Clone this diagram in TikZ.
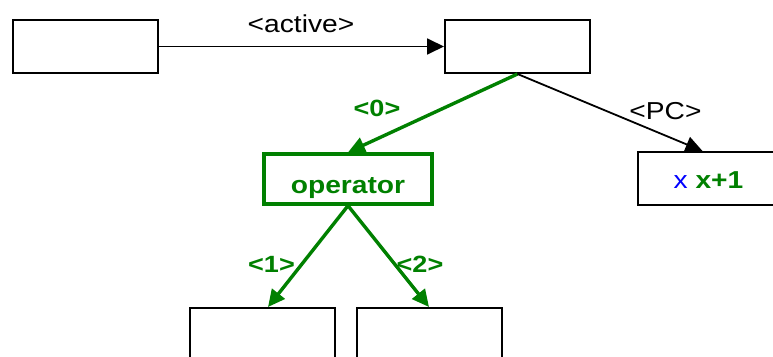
\documentclass[tikz,border=0pt]{standalone}
\usepackage{fontspec}
\setmainfont{Liberation Sans}[FakeStretch=1.15]
\usetikzlibrary{arrows.meta}
\definecolor{tgreen}{RGB}{0,128,0}
\definecolor{tblue}{RGB}{0,0,255}
\tikzset{
  box/.style={draw=black, line width=2pt, minimum width=145pt, minimum height=53pt, inner sep=0pt, fill=white},
  opbox/.style={draw=tgreen, line width=3.4pt, minimum width=168pt, minimum height=50pt, inner sep=0pt, text=tgreen, font=\fontsize{24.5}{28}\selectfont\bfseries, text height=28pt, text depth=0pt},
  blk/.style={draw=black, line width=1.8pt, -{Triangle[length=17pt,width=16pt]}},
  grn/.style={draw=tgreen, line width=3.4pt, -{Triangle[length=17pt,width=16pt]}},
  lbl/.style={font=\fontsize{24.5}{28}\selectfont, inner sep=0pt, anchor=base},
  glbl/.style={font=\fontsize{23.5}{28}\selectfont\bfseries, text=tgreen, inner sep=0pt, anchor=base}
}
\begin{document}
\begin{tikzpicture}[x=1pt,y=-1pt]
\useasboundingbox (0,0) rectangle (773,356);
\node[box] (A) at (85.5,46.5) {};
\node[box] (B) at (517.5,46.5) {};
\node[opbox] (op) at (348,179) {operator};
\node[box, font=\fontsize{24.5}{28}\selectfont, text height=19pt, text depth=0pt] (pc) at (710.5,178.5) {\hspace*{-4pt}\textcolor{tblue}{x} \textcolor{tgreen}{\bfseries x+1}};
\node[box] (L) at (262,334.5) {};
\node[box] (R) at (429,334.5) {};
\draw[blk] (A.east) -- (B.west);
\draw[grn] (B.south) -- (op.north);
\draw[blk] (B.south) -- ([xshift=-8pt]pc.north);
\draw[grn] (op.south) -- ([xshift=6pt]L.north);
\draw[grn] (op.south) -- (R.north);
\node[lbl] (la) at (301,32) {<active>};
\node[lbl] (lpc) at (665.5,119) {<PC>};
\node[glbl] (l0) at (377,116.5) {<0>};
\node[glbl] (l1) at (271.5,272) {<1>};
\node[glbl] (l2) at (420,272) {<2>};
\end{tikzpicture}
\end{document}
